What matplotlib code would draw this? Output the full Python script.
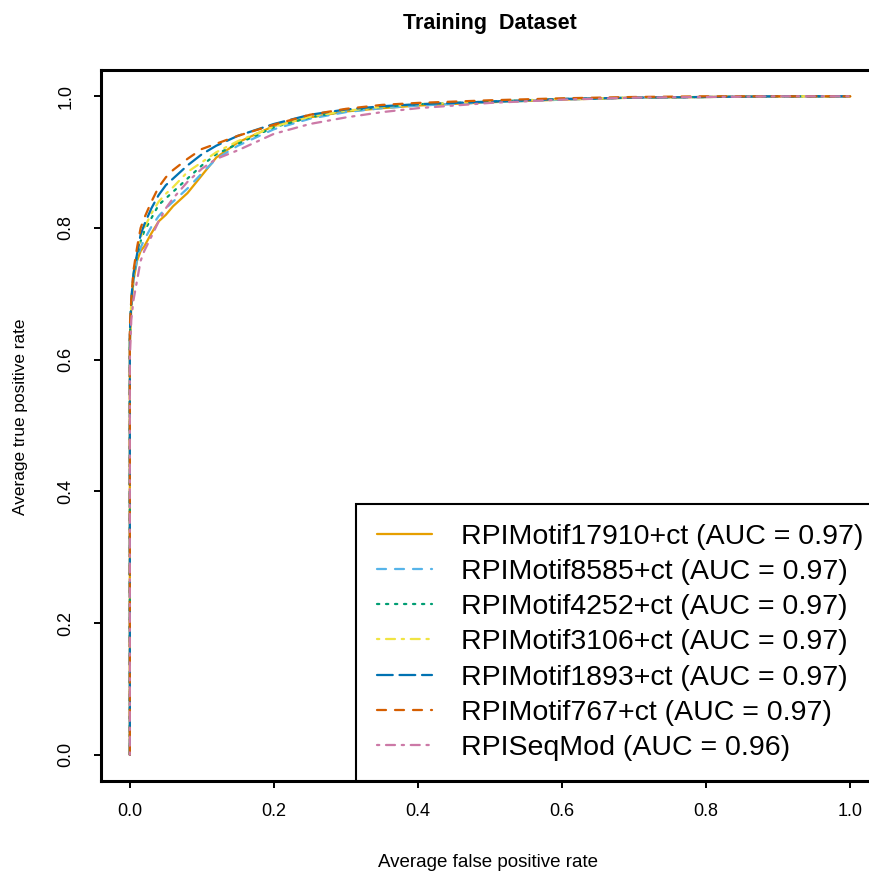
import matplotlib
matplotlib.use("Agg")
import matplotlib.pyplot as plt

plt.rcParams['font.family'] = ['Liberation Sans', 'DejaVu Sans']

fpr = [0.0, 0.0, 0.002, 0.005, 0.01, 0.015, 0.02, 0.03, 0.04, 0.05, 0.06, 0.08,
       0.10, 0.12, 0.15, 0.20, 0.25, 0.30, 0.35, 0.40, 0.50, 0.60, 0.70, 0.80, 0.90, 1.0]

tpr_17910 = [0.0, 0.62, 0.68, 0.72, 0.75, 0.765, 0.772, 0.792, 0.810, 0.820, 0.833, 0.853,
             0.880, 0.907, 0.930, 0.955, 0.968, 0.977, 0.982, 0.986, 0.991, 0.995, 0.998, 0.999, 1.0, 1.0]
tpr_8585 = [0.0, 0.62, 0.68, 0.72, 0.752, 0.770, 0.782, 0.802, 0.818, 0.830, 0.840, 0.860,
            0.883, 0.905, 0.925, 0.950, 0.966, 0.976, 0.982, 0.986, 0.991, 0.995, 0.998, 0.999, 1.0, 1.0]
tpr_4252 = [0.0, 0.63, 0.69, 0.725, 0.758, 0.780, 0.795, 0.815, 0.835, 0.845, 0.855, 0.875,
            0.895, 0.912, 0.928, 0.953, 0.968, 0.978, 0.984, 0.988, 0.992, 0.996, 0.998, 0.999, 1.0, 1.0]
tpr_3106 = [0.0, 0.63, 0.69, 0.73, 0.762, 0.785, 0.800, 0.822, 0.840, 0.852, 0.862, 0.885,
            0.900, 0.915, 0.932, 0.954, 0.969, 0.978, 0.984, 0.988, 0.992, 0.996, 0.998, 0.999, 1.0, 1.0]
tpr_1893 = [0.0, 0.64, 0.69, 0.73, 0.760, 0.790, 0.805, 0.830, 0.850, 0.865, 0.875, 0.895,
            0.912, 0.925, 0.940, 0.958, 0.972, 0.980, 0.985, 0.988, 0.992, 0.996, 0.998, 0.999, 1.0, 1.0]
tpr_767 = [0.0, 0.65, 0.69, 0.735, 0.770, 0.800, 0.815, 0.840, 0.862, 0.877, 0.888, 0.905,
           0.920, 0.928, 0.940, 0.957, 0.972, 0.981, 0.987, 0.990, 0.994, 0.997, 0.999, 1.0, 1.0, 1.0]
tpr_seqmod = [0.0, 0.60, 0.66, 0.69, 0.720, 0.750, 0.765, 0.787, 0.810, 0.830, 0.845, 0.870,
              0.890, 0.905, 0.918, 0.943, 0.958, 0.968, 0.976, 0.982, 0.990, 0.995, 0.998, 0.999, 1.0, 1.0]

labels = ["RPIMotif17910+ct (AUC = 0.97)", "RPIMotif8585+ct (AUC = 0.97)",
          "RPIMotif4252+ct (AUC = 0.97)", "RPIMotif3106+ct (AUC = 0.97)",
          "RPIMotif1893+ct (AUC = 0.97)", "RPIMotif767+ct (AUC = 0.97)",
          "RPISeqMod (AUC = 0.96)"]
series = [tpr_17910, tpr_8585, tpr_4252, tpr_3106, tpr_1893, tpr_767, tpr_seqmod]
colors = ["#E69F00", "#56B4E9", "#009E73", "#F0E442", "#0072B2", "#D55E00", "#CC79A7"]
styles = ["-", (0, (4, 4)), (0, (1, 3)), (0, (1, 3, 4, 3)), (0, (7, 3)), (0, (4, 4)), (0, (1, 3, 4, 3))]

x_ticks = [0.0, 0.2, 0.4, 0.6, 0.8, 1.0]
y_ticks = [0.0, 0.2, 0.4, 0.6, 0.8, 1.0]

W, H = 870, 872
fig = plt.figure(figsize=(W / 100, H / 100), dpi=100)
ax = fig.add_axes([101 / W, (H - 781) / H, 778 / W, 711 / H])

for y, c, ls, lab in zip(series, colors, styles, labels):
    ax.plot(fpr, y, color=c, linestyle=ls, linewidth=1.62, label=lab,
            dash_capstyle='round', solid_capstyle='round')

ax.set_xlim(-0.04, 1.04)
ax.set_ylim(-0.04, 1.04)
ax.set_xticks(x_ticks)
ax.set_yticks(y_ticks)
ax.set_xticklabels([f"{v:.1f}" for v in x_ticks])
ax.set_yticklabels([f"{v:.1f}" for v in y_ticks], rotation=90, va='center')
ax.tick_params(axis='both', direction='out', length=5, width=1.4, labelsize=13)
ax.tick_params(axis='x', pad=11)
ax.tick_params(axis='y', pad=14)
for s in ax.spines.values():
    s.set_linewidth(2.2)

fig.text(490 / W, 1 - 24 / H, "Training  Dataset", ha='center', va='center',
         fontsize=15.5, fontweight='bold')
fig.text(488 / W, 1 - 862 / H, "Average false positive rate", ha='center', va='center', fontsize=13.5)
fig.text(21 / W, 1 - 417 / H, "Average true positive rate", ha='center', va='center',
         fontsize=12.4, rotation=90)

leg = ax.legend(loc='lower right', bbox_to_anchor=(1.0 + 5 / 778, 0.0), borderaxespad=0,
                fontsize=20.5, frameon=True, fancybox=False, framealpha=1,
                handlelength=1.93, handletextpad=1.05, borderpad=0.71,
                labelspacing=0.32)
leg.get_frame().set_edgecolor('black')
leg.get_frame().set_linewidth(1.5)

fig.savefig("out.png", dpi=100)
